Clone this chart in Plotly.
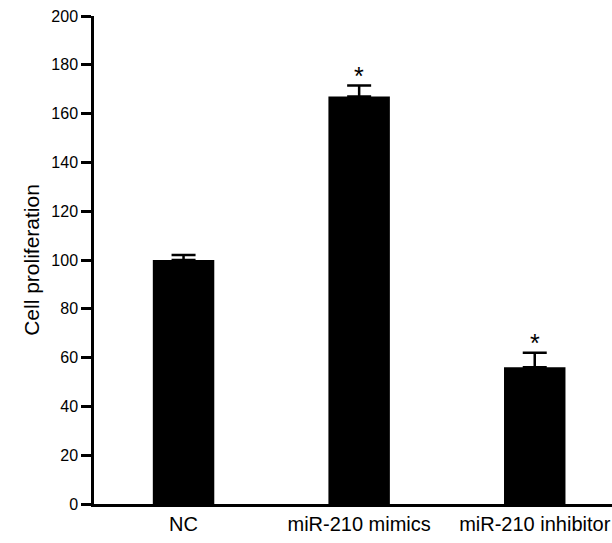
import plotly.graph_objects as go

categories = ["NC", "miR-210 mimics", "miR-210 inhibitor"]
values = [100, 167, 56]
errors = [2, 4.5, 6]
significance = ["", "*", "*"]

fig = go.Figure()
fig.add_trace(go.Bar(
    x=list(range(len(categories))),
    y=values,
    width=0.35,
    marker=dict(color="black", line=dict(width=0)),
    error_y=dict(type="data", array=errors, arrayminus=[0, 0, 0],
                 color="black", thickness=2.5, width=12, visible=True),
    showlegend=False,
))

for i, (v, e, s) in enumerate(zip(values, errors, significance)):
    if s:
        fig.add_annotation(x=i, y=v + e, text=s, showarrow=False,
                           yanchor="bottom", yshift=-6,
                           font=dict(family="Arial, Liberation Sans", size=25, color="black"))

fig.update_layout(
    width=612, height=543,
    margin=dict(l=94, r=0, t=16, b=39),
    paper_bgcolor="white", plot_bgcolor="white",
    font=dict(family="Arial, Liberation Sans", color="black"),
    xaxis=dict(
        range=[-0.51, 2.44],
        tickvals=list(range(len(categories))),
        ticktext=categories,
        showline=True, linecolor="black", linewidth=2.5,
        ticks="", showgrid=False, zeroline=False,
        tickfont=dict(size=20), ticklen=0,
    ),
    yaxis=dict(
        range=[0, 200], dtick=20,
        showline=True, linecolor="black", linewidth=2.5,
        ticks="outside", ticklen=10, tickwidth=2.5, tickcolor="black",
        showgrid=False, zeroline=False,
        tickfont=dict(size=16),
        title=dict(text="Cell proliferation", font=dict(size=21), standoff=6),
    ),
)

fig.write_html(
    "out.html",
    config={"displayModeBar": False},
    post_script="document.body.style.margin='0';document.body.style.overflow='hidden';",
)
